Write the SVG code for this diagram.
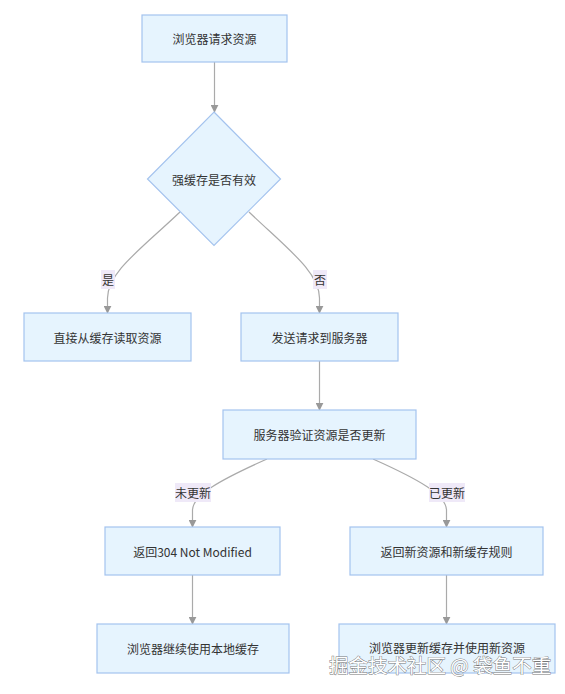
<svg xmlns="http://www.w3.org/2000/svg" width="565" height="694" viewBox="0 0 565 694">
<defs>
<marker id="arr" viewBox="0 0 10 10" refX="9" refY="5" markerWidth="8" markerHeight="8" markerUnits="userSpaceOnUse" orient="auto">
<path d="M0,0 L10,5 L0,10 z" fill="#999"/>
</marker>
</defs>
<style>
.node rect,.node polygon{fill:#E6F4FE;stroke:#A4C3EE;stroke-width:1.2}
.node text{font-family:"Noto Sans CJK SC","Noto Sans",sans-serif;font-size:12px;fill:#333;text-anchor:middle;dominant-baseline:central}
.edge{fill:none;stroke:#aaa;stroke-width:1.2;marker-end:url(#arr)}
.lbl rect{fill:#EFE9F8}
.lbl text{font-family:"Noto Sans CJK SC","Noto Sans",sans-serif;font-size:12px;fill:#333;text-anchor:middle;dominant-baseline:central}
.wm{font-family:"Noto Sans CJK SC",sans-serif;font-size:19.5px;fill:#fff;stroke:#777;stroke-width:0.9;paint-order:stroke}
</style>
<rect width="565" height="694" fill="#fff"/>
<g id="connectors">
<path class="edge" d="M214.5,62 L214.5,112"/>
<path class="edge" d="M180,212 C140,250 108,272 107.5,298 L107.5,313"/>
<path class="edge" d="M249,212 C289,250 319,272 319.5,298 L319.5,313"/>
<path class="edge" d="M319.5,361 L319.5,410"/>
<path class="edge" d="M267,459 C220,480 193,495 192.5,510 L192.5,527"/>
<path class="edge" d="M373,459 C420,480 446,495 446.5,510 L446.5,527"/>
<path class="edge" d="M192.5,575 L192.5,624"/>
<path class="edge" d="M446.5,575 L446.5,624"/>
<g class="lbl"><rect x="101" y="270" width="14" height="19"/><text x="108" y="279.5">是</text></g>
<g class="lbl"><rect x="313" y="270" width="14" height="19"/><text x="320" y="279.5">否</text></g>
<g class="lbl"><rect x="175" y="483" width="36" height="19"/><text x="193" y="492.5">未更新</text></g>
<g class="lbl"><rect x="429" y="483" width="36" height="19"/><text x="447" y="492.5">已更新</text></g>
</g>
<g id="n1" class="node"><rect x="142" y="15" width="145" height="47"/><text x="214.5" y="38.5">浏览器请求资源</text></g>
<g id="n2" class="node"><polygon points="214,112 280.5,179 214,245.5 147.5,179"/><text x="214" y="179">强缓存是否有效</text></g>
<g id="n3" class="node"><rect x="24" y="313" width="167" height="48"/><text x="107.5" y="337">直接从缓存读取资源</text></g>
<g id="n4" class="node"><rect x="241" y="313" width="157" height="48"/><text x="319.5" y="337">发送请求到服务器</text></g>
<g id="n5" class="node"><rect x="223" y="410" width="193" height="49"/><text x="319.5" y="434.5">服务器验证资源是否更新</text></g>
<g id="n6" class="node"><rect x="105" y="527" width="175" height="48"/><text x="192.5" y="551">返回304 Not Modified</text></g>
<g id="n7" class="node"><rect x="350" y="527" width="193" height="48"/><text x="446.5" y="551">返回新资源和新缓存规则</text></g>
<g id="n8" class="node"><rect x="97" y="624" width="192" height="49"/><text x="193" y="648.5">浏览器继续使用本地缓存</text></g>
<g id="n9" class="node"><rect x="339" y="624" width="216" height="49"/><text x="447" y="647.5">浏览器更新缓存并使用新资源</text></g>
<text class="wm" x="329" y="673">掘金技术社区 @ 袋鱼不重</text>
</svg>
